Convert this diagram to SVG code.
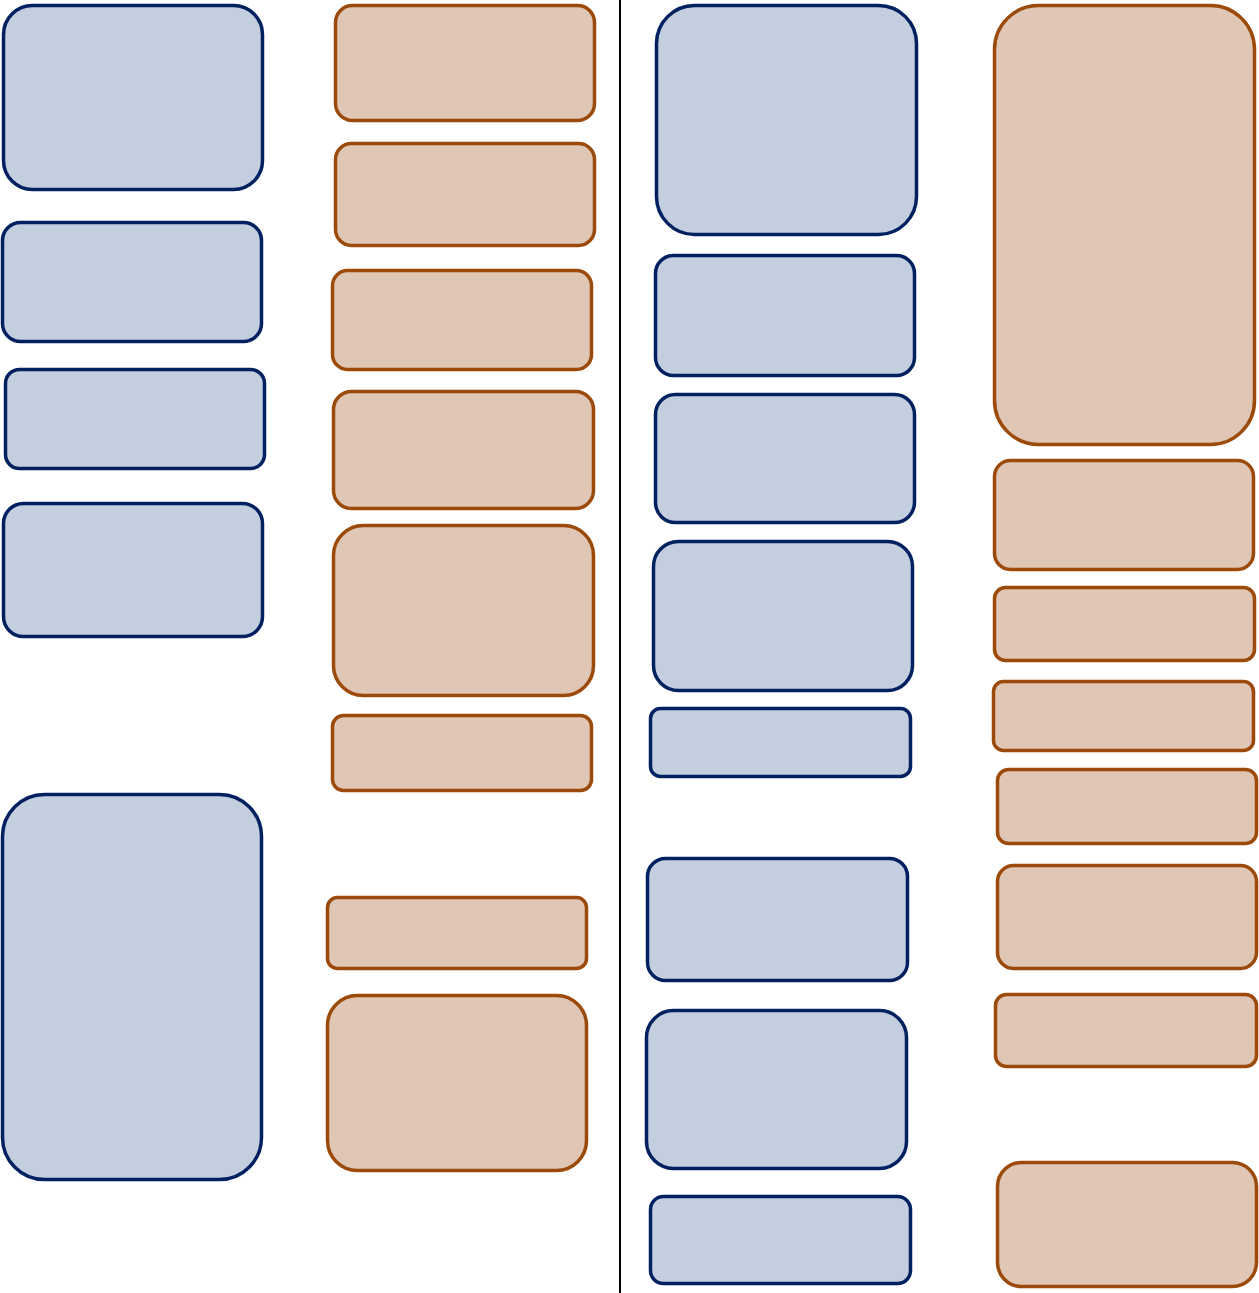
<svg xmlns="http://www.w3.org/2000/svg" width="1259" height="1293" viewBox="0 0 1259 1293">
<style>
.b{fill:#c3cfdf;stroke:#002060;stroke-width:3.5}
.o{fill:#e0c6b4;stroke:#9c4a0a;stroke-width:3.5}
.div{stroke:#000;stroke-width:2}
</style>
<rect width="1259" height="1293" fill="#fff"/>
<g id="connectors"><line class="div" x1="620" y1="0" x2="620" y2="1293"/></g>
<g id="b1"><rect class="b" x="3.5" y="5.5" width="259" height="184" rx="29"/></g>
<g id="b2"><rect class="b" x="2.5" y="222.5" width="259" height="119" rx="18"/></g>
<g id="b3"><rect class="b" x="5.5" y="369.5" width="259" height="99" rx="14"/></g>
<g id="b4"><rect class="b" x="3.5" y="503.5" width="259" height="133" rx="20"/></g>
<g id="b5"><rect class="b" x="2.5" y="794.5" width="259" height="385" rx="42"/></g>
<g id="o1"><rect class="o" x="335.5" y="5.5" width="259" height="115" rx="17"/></g>
<g id="o2"><rect class="o" x="335.5" y="143.5" width="259" height="102" rx="16"/></g>
<g id="o3"><rect class="o" x="332.5" y="270.5" width="259" height="99" rx="15"/></g>
<g id="o4"><rect class="o" x="333.5" y="391.5" width="260" height="117" rx="18"/></g>
<g id="o5"><rect class="o" x="333.5" y="525.5" width="260" height="170" rx="30"/></g>
<g id="o6"><rect class="o" x="332.5" y="715.5" width="259" height="75" rx="11"/></g>
<g id="o7"><rect class="o" x="327.5" y="897.5" width="259" height="71" rx="10"/></g>
<g id="o8"><rect class="o" x="327.5" y="995.5" width="259" height="175" rx="30"/></g>
<g id="c1"><rect class="b" x="656.5" y="5.5" width="260" height="229" rx="38"/></g>
<g id="c2"><rect class="b" x="655.5" y="255.5" width="259" height="120" rx="18"/></g>
<g id="c3"><rect class="b" x="655.5" y="394.5" width="259" height="128" rx="20"/></g>
<g id="c4"><rect class="b" x="653.5" y="541.5" width="259" height="149" rx="25"/></g>
<g id="c5"><rect class="b" x="650.5" y="708.5" width="260" height="68" rx="10"/></g>
<g id="c6"><rect class="b" x="647.5" y="858.5" width="260" height="122" rx="18"/></g>
<g id="c7"><rect class="b" x="646.5" y="1010.5" width="260" height="158" rx="27"/></g>
<g id="c8"><rect class="b" x="650.5" y="1196.5" width="260" height="87" rx="13"/></g>
<g id="d1"><rect class="o" x="994.5" y="5.5" width="260" height="439" rx="44"/></g>
<g id="d2"><rect class="o" x="994.5" y="460.5" width="259" height="109" rx="16"/></g>
<g id="d3"><rect class="o" x="994.5" y="587.5" width="260" height="73" rx="11"/></g>
<g id="d4"><rect class="o" x="993.5" y="681.5" width="260" height="69" rx="10"/></g>
<g id="d5"><rect class="o" x="997.5" y="769.5" width="259" height="74" rx="11"/></g>
<g id="d6"><rect class="o" x="997.5" y="865.5" width="259" height="103" rx="16"/></g>
<g id="d7"><rect class="o" x="995.5" y="994.5" width="261" height="72" rx="11"/></g>
<g id="d8"><rect class="o" x="997.5" y="1162.5" width="259" height="124" rx="24"/></g>
</svg>
